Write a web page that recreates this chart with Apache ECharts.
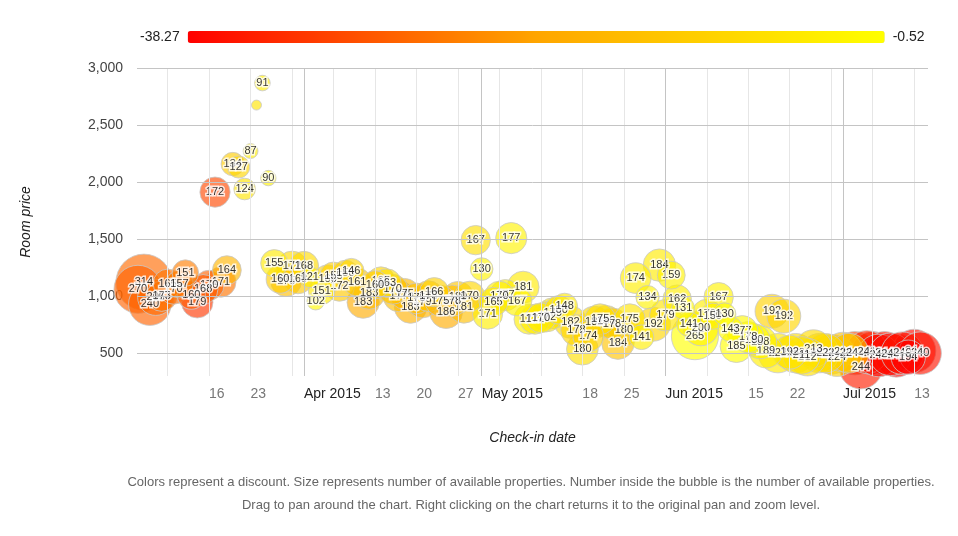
<!DOCTYPE html>
<html>
<head>
<meta charset="utf-8">
<script src="https://cdn.jsdelivr.net/npm/echarts@6/dist/echarts.min.js"></script>
<style>
html,body{margin:0;padding:0;background:#fff;}
#chart{width:958px;height:536px;}
</style>
</head>
<body>
<div id="chart"></div>
<script>
// ---- data ----
const dates = [
'2015-03-04','2015-03-05','2015-03-06','2015-03-07','2015-03-08','2015-03-09','2015-03-10','2015-03-11','2015-03-12','2015-03-13',
'2015-03-14','2015-03-15','2015-03-16','2015-03-17','2015-03-18','2015-03-19','2015-03-20','2015-03-21','2015-03-22','2015-03-23',
'2015-03-24','2015-03-25','2015-03-26','2015-03-27','2015-03-28','2015-03-29','2015-03-30','2015-03-31',
'2015-04-01','2015-04-02','2015-04-03','2015-04-04','2015-04-05','2015-04-06','2015-04-07','2015-04-08','2015-04-09','2015-04-10',
'2015-04-11','2015-04-12','2015-04-13','2015-04-14','2015-04-15','2015-04-16','2015-04-17','2015-04-18','2015-04-19','2015-04-20',
'2015-04-21','2015-04-22','2015-04-23','2015-04-24','2015-04-25','2015-04-26','2015-04-27','2015-04-28','2015-04-29','2015-04-30',
'2015-05-01','2015-05-02','2015-05-03','2015-05-04','2015-05-05','2015-05-06','2015-05-07','2015-05-08','2015-05-09','2015-05-10',
'2015-05-11','2015-05-12','2015-05-13','2015-05-14','2015-05-15','2015-05-16','2015-05-17','2015-05-18','2015-05-19','2015-05-20',
'2015-05-21','2015-05-22','2015-05-23','2015-05-24','2015-05-25','2015-05-26','2015-05-27','2015-05-28','2015-05-29','2015-05-30',
'2015-05-31',
'2015-06-01','2015-06-02','2015-06-03','2015-06-04','2015-06-05','2015-06-06','2015-06-07','2015-06-08','2015-06-09','2015-06-10',
'2015-06-11','2015-06-12','2015-06-13','2015-06-14','2015-06-15','2015-06-16','2015-06-17','2015-06-18','2015-06-19','2015-06-20',
'2015-06-21','2015-06-22','2015-06-23','2015-06-24','2015-06-25','2015-06-26','2015-06-27','2015-06-28','2015-06-29','2015-06-30',
'2015-07-01','2015-07-02','2015-07-03','2015-07-04','2015-07-05','2015-07-06','2015-07-07','2015-07-08','2015-07-09','2015-07-10',
'2015-07-11','2015-07-12','2015-07-13','2015-07-14'
];
const prices = [
1060,1123,930,990,1000,1110,1060,1105,1202,1009,
947,1060,1096,1912,1123,1228,2158,2132,1939,2272,
2675,2868,2035,1289,1149,1132,1262,1150,
1263,1167,956,1044,1150,1180,1088,1200,1219,1123,
947,1026,1100,1130,1114,1060,1000,1020,903,980,
947,1000,1035,960,860,960,990,903,1000,1491,
1237,842,950,1000,1009,1509,956,1079,798,798,
810,820,850,880,912,772,700,535,649,770,
798,780,760,588,700,798,1158,640,991,754,
1272,
833,1184,974,895,754,649,720,842,824,991,
842,710,561,693,640,620,596,517,868,500,
825,509,500,480,465,540,500,500,490,470,
510,500,500,377,510,500,480,500,490,480,
500,465,520,500
];
const counts = [
270,314,240,205,173,165,170,157,151,160,
179,168,170,172,171,164,134,127,124,87,
60,91,90,155,160,175,172,168,
168,121,102,151,160,155,172,150,146,161,
183,183,160,165,163,170,177,175,183,175,
179,175,166,175,186,178,180,181,170,167,
130,171,165,170,177,177,167,181,171,171,
170,172,175,160,148,182,178,180,174,182,
175,180,178,184,180,175,174,141,134,192,
184,
179,159,162,131,141,265,200,170,150,167,
130,143,185,177,178,180,188,189,192,222,
192,192,222,211,212,213,222,222,224,224,
224,224,244,244,241,244,240,244,240,244,
240,194,244,240
];
const discounts = [
-27,-26,-27,-26,-25,-25,-26,-24,-24,-28,
-32,-28,-27,-30,-25,-16,-11,-9,-6,-4,
-6,-4,-3,-5,-11,-14,-8,-12,
-8,-4,-2,-5,-9,-10,-12,-10,-9,-12,
-18,-15,-11,-9,-7,-13,-14,-15,-17,-14,
-16,-13,-10,-15,-18,-14,-12,-14,-9,-7,
-3,-4,-5,-4,-4,-3,-3,-5,-4,-5,
-5,-6,-6,-6,-5,-8,-9,-7,-10,-8,
-7,-9,-11,-13,-10,-6,-4,-4,-3,-9,
-5,
-6,-3,-4,-2,-3,-0.52,-3,-4,-3,-3,
-1,-2,-1,-2,-1,-2,-3,-4,-10,-5,
-9,-6,-7,-6,-7,-8,-7,-8,-9,-10,
-13,-12,-30,-35,-34,-36,-37,-36,-37,-38,
-36,-38.27,-37,-36
];
const discountMin = -38.27, discountMax = -0.52;
const yTicks = [500,1000,1500,2000,2500,3000];
const weekLines = ['2015-03-09','2015-03-16','2015-03-23','2015-03-30','2015-04-06','2015-04-13','2015-04-20','2015-04-27',
  '2015-05-04','2015-05-11','2015-05-18','2015-05-25','2015-06-08','2015-06-15','2015-06-22','2015-06-29','2015-07-06','2015-07-13'];
const monthLines = ['2015-04-01','2015-05-01','2015-06-01','2015-07-01'];
const xLabelDates = ['2015-03-16','2015-03-23','2015-04-01','2015-04-13','2015-04-20','2015-04-27','2015-05-01',
  '2015-05-18','2015-05-25','2015-06-01','2015-06-15','2015-06-22','2015-07-01','2015-07-13'];
const monthNames = ['Jan','Feb','Mar','Apr','May','Jun','Jul','Aug','Sep','Oct','Nov','Dec'];
const xRange = ['2015-03-03 20:00','2015-07-15 08:00'];
const yRange = [300, 3000];
const sizeRange = [60, 314];
const minLabelledCount = 80;

// ---- build ----
const t = s => echarts.number.parseDate(s).getTime();
const order = dates.map((d,i)=>i).sort((a,b)=>counts[b]-counts[a]);
const bubbleData = order.map(i => [t(dates[i]), prices[i], counts[i], discounts[i]]);

const chart = echarts.init(document.getElementById('chart'), null, {renderer:'canvas'});
const FONT = 'Arial, "Liberation Sans", sans-serif';

chart.setOption({
  animation: false,
  grid: {left:137, right:30, top:68, bottom:160},
  visualMap: [{
    type:'continuous', seriesIndex:0, dimension:3,
    min: discountMin, max: discountMax,
    orient:'horizontal', left:125, top:15,
    itemWidth:12, itemHeight:697,
    text:[String(discountMax), String(discountMin)], textGap:8,
    calculable:false, hoverLink:false,
    inRange:{color:['rgba(255,0,0,0.8)','rgba(255,165,0,0.8)','rgba(255,255,0,0.8)']},
    controller:{inRange:{color:['#ff0000','#ffa500','#ffff00']}},
    textStyle:{color:'#222', fontSize:14, fontFamily:FONT}
  },{
    type:'continuous', seriesIndex:0, dimension:2, show:false,
    min: sizeRange[0], max: sizeRange[1],
    inRange:{symbolSize:[10,56]}
  }],
  xAxis: {
    type:'value', min:t(xRange[0]), max:t(xRange[1]),
    axisLine:{show:false}, axisTick:{show:false}, splitLine:{show:false},
    axisLabel:{
      customValues: xLabelDates.map(t),
      align:'left', margin:11, fontSize:14, fontFamily:FONT,
      formatter: v => { const d = new Date(v); return d.getDate()===1 ? '{m|'+monthNames[d.getMonth()]+' '+d.getFullYear()+'}' : '{d|'+d.getDate()+'}'; },
      rich:{ m:{color:'#222', fontSize:14, fontFamily:FONT}, d:{color:'#777', fontSize:14, fontFamily:FONT} }
    },
    name:'Check-in date', nameLocation:'middle', nameGap:55,
    nameTextStyle:{fontStyle:'italic', fontSize:14, color:'#222', fontFamily:FONT}
  },
  yAxis: {
    type:'value', min:yRange[0], max:yRange[1], interval:100,
    axisLine:{show:false}, axisTick:{show:false}, splitLine:{show:false},
    axisLabel:{ formatter: v => (yTicks.indexOf(v)>=0 ? v.toLocaleString('en-US') : ''), color:'#444', fontSize:14, fontFamily:FONT, margin:14 },
    name:'Room price', nameLocation:'middle', nameGap:104, nameRotate:90,
    nameTextStyle:{fontStyle:'italic', fontSize:14, color:'#222', fontFamily:FONT}
  },
  series: [{
    type:'scatter', data: bubbleData, z:3,
    itemStyle:{borderColor:'#c8c8c8', borderWidth:1},
    label:{show:true, position:'inside', formatter: p => (p.value[2] >= minLabelledCount ? String(p.value[2]) : ''),
      color:'#000', fontSize:11, fontFamily:FONT, textBorderColor:'#fff', textBorderWidth:3},
    emphasis:{disabled:true}
  },{
    type:'scatter', data:[], z:1, silent:true,
    markLine:{ symbol:'none', silent:true, animation:false, label:{show:false},
      lineStyle:{color:'#e6e6e6', type:'solid', width:1},
      data: weekLines.map(d => ({xAxis: t(d)})) }
  },{
    type:'scatter', data:[], z:1, silent:true,
    markLine:{ symbol:'none', silent:true, animation:false, label:{show:false},
      lineStyle:{color:'#c4c4c4', type:'solid', width:1},
      data: monthLines.map(d => ({xAxis: t(d)})).concat(yTicks.map(v => ({yAxis: v}))) }
  }],
  graphic: [{
    type:'text', x:531, y:476,
    style:{text:'Colors represent a discount. Size represents number of available properties. Number inside the bubble is the number of available properties.', fill:'#666', font:'13px '+FONT, align:'center'}
  },{
    type:'text', x:531, y:499,
    style:{text:'Drag to pan around the chart. Right clicking on the chart returns it to the original pan and zoom level.', fill:'#666', font:'13px '+FONT, align:'center'}
  }]
});
</script>
</body>
</html>
